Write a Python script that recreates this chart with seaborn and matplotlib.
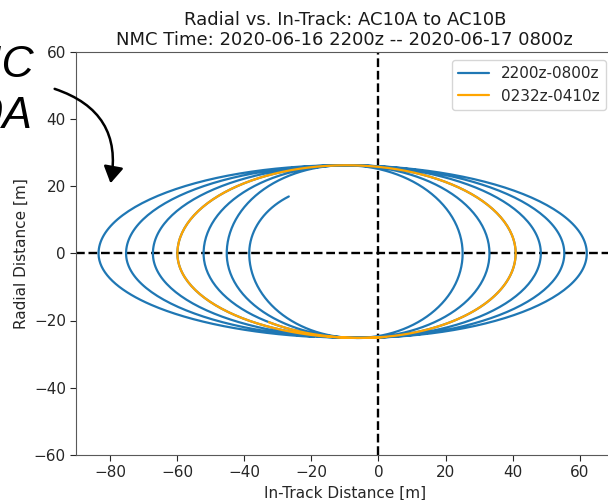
import matplotlib
matplotlib.use("Agg")
import matplotlib.pyplot as plt
from matplotlib.patches import FancyArrowPatch
import numpy as np
import pandas as pd
import seaborn as sns

sns.set_style("ticks")
plt.rcParams["font.family"] = ["DejaVu Sans"]

# values (metres)
left_crossings = [-38.5, -45.2, -52.1, -59.9, -67.2, -75.2, -83.4]   # inner -> outer, radial = 0
right_crossings = [25.1, 33.1, 40.9, 48.4, 55.4, 62.1]              # inner -> outer, radial = 0
top_radial = 26.3
bottom_radial = -25.2
start_point = (-26.7, 17.0)
end_fraction = 0.45          # last half loop after the outermost left crossing
orange_span = (4.3, 6.55)    # half-loop index range of the 0232z-0410z window
labels = ["2200z-0800z", "0232z-0410z"]

# crossing order along the spiral: L1, R1, L2, R2, ... R6, L7
crossings = []
for i in range(len(left_crossings)):
    crossings.append(left_crossings[i])
    if i < len(right_crossings):
        crossings.append(right_crossings[i])
crossings.append(right_crossings[-1] + (right_crossings[-1] - right_crossings[-2]))

rows = []
# opening arc from the start point down to the first left crossing
phi = np.linspace(1.0, 0.0, 40)
sx, sy = start_point
ax0 = (sx - crossings[0]) / (1 - np.cos(1.0))
by0 = sy / np.sin(1.0)
for j, p in enumerate(phi):
    rows.append((-0.3 + 0.3 * j / (len(phi) - 1),
                 crossings[0] + ax0 * (1 - np.cos(p)), by0 * np.sin(p)))

# half loops between successive crossings
for k in range(len(crossings) - 1):
    e0, e1 = crossings[k], crossings[k + 1]
    amp = bottom_radial if k % 2 == 0 else top_radial
    smax = end_fraction if k == len(crossings) - 2 else 1.0
    for s in np.linspace(0, smax, 120)[1:]:
        x = e0 + (e1 - e0) * (1 - np.cos(np.pi * s)) / 2
        y = amp * np.sin(np.pi * s)
        rows.append((k + s, x, y))

track = pd.DataFrame(rows, columns=["idx", "intrack", "radial"])
orange = track[(track["idx"] >= orange_span[0]) & (track["idx"] <= orange_span[1])]

fig = plt.figure(figsize=(6.08, 5.0), dpi=100)
ax = fig.add_axes([76.4 / 608, 1 - 454.6 / 500, (613.3 - 76.4) / 608, (454.6 - 52.3) / 500])

sns.lineplot(data=track, x="intrack", y="radial", sort=False, estimator=None,
             color="#1f77b4", lw=1.6, ax=ax, label=labels[0])
sns.lineplot(data=orange, x="intrack", y="radial", sort=False, estimator=None,
             color="orange", lw=1.6, ax=ax, label=labels[1])

ax.axhline(0, color="black", ls="--", lw=1.7, zorder=1)
ax.axvline(0, color="black", ls="--", lw=1.7, zorder=1)

ax.set_xlim(-90, 70)
ax.set_ylim(-60, 60)
ax.set_xticks([-80, -60, -40, -20, 0, 20, 40, 60])
ax.set_yticks([-60, -40, -20, 0, 20, 40, 60])
ax.tick_params(labelsize=11, colors="0.15", length=4)
for sp in ax.spines.values():
    sp.set_color("0.35")
ax.set_xlabel("In-Track Distance [m]", fontsize=11)
ax.set_ylabel("Radial Distance [m]", fontsize=11)
ax.set_title("Radial vs. In-Track: AC10A to AC10B\nNMC Time: 2020-06-16 2200z -- 2020-06-17 0800z",
             fontsize=13, pad=5, color="0.1")
ax.legend(loc="upper right", fontsize=11, frameon=True)

# cropped slide annotation on the left
fig.text(34 / 608, 1 - 77 / 500, "RIC", fontsize=32, style="italic", ha="right",
         va="baseline", color="black", family=["Liberation Sans", "DejaVu Sans"])
fig.text(32 / 608, 1 - 128 / 500, "AC10A", fontsize=32, style="italic", ha="right",
         va="baseline", color="black", family=["Liberation Sans", "DejaVu Sans"])
arrow = FancyArrowPatch((52 / 608, 1 - 88 / 500), (110 / 608, 1 - 186 / 500),
                        transform=fig.transFigure, connectionstyle="arc3,rad=-0.45",
                        arrowstyle="-|>,head_length=10,head_width=6", color="black", lw=1.8)
fig.patches.append(arrow)

fig.savefig("out.png", dpi=100)
